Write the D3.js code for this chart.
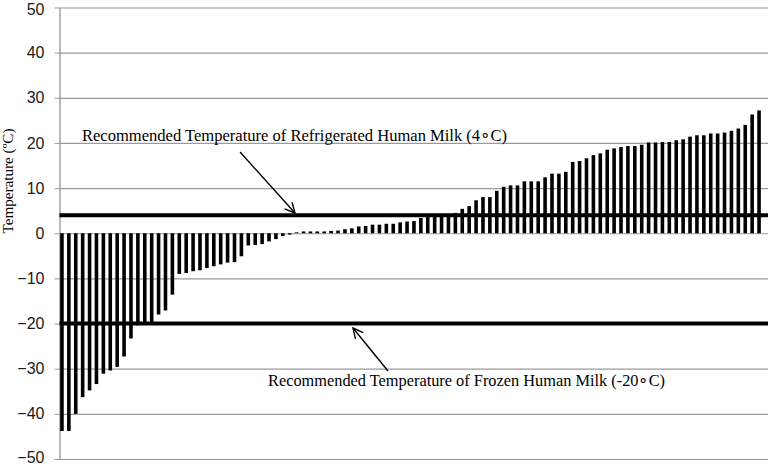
<!DOCTYPE html>
<html>
<head>
<meta charset="utf-8">
<script src="https://cdn.jsdelivr.net/npm/d3@7"></script>
<style>
  body { margin: 0; background: #fff; }
  .tick text { font-family: "Liberation Sans", Arial, sans-serif; font-size: 16px; fill: #1a1a1a; }
  .note { font-family: "Liberation Serif", "Times New Roman", serif; font-size: 16px; fill: #000; }
</style>
</head>
<body>
<svg class="TempChart" width="772" height="466"></svg>
<script>
// temperature of each sample, sorted low to high
const temps = [
  -43.8, -43.8, -40.0, -36.3, -34.8, -33.4, -31.1, -30.4, -29.6, -27.3,
  -23.3, -20.4, -20.1, -19.8, -18.0, -17.1, -13.6, -9.0, -8.8, -8.4,
  -8.2, -7.7, -7.3, -6.9, -6.5, -6.4, -5.1, -2.7, -2.6, -2.4,
  -1.8, -1.3, -0.6, -0.3, 0.2, 0.4, 0.4, 0.4, 0.4, 0.5,
  0.6, 0.9, 1.1, 1.5, 1.6, 1.9, 1.9, 2.1, 2.1, 2.4,
  2.6, 2.7, 3.4, 3.6, 3.8, 3.9, 4.3, 4.5, 5.4, 6.0,
  7.3, 8.0, 8.0, 9.4, 10.3, 10.6, 10.6, 11.5, 11.5, 11.5,
  12.4, 13.2, 13.2, 13.6, 15.8, 16.0, 16.6, 17.3, 17.7, 18.5,
  18.8, 19.1, 19.3, 19.3, 19.6, 20.1, 20.1, 20.2, 20.2, 20.6,
  20.8, 21.4, 21.7, 21.7, 22.1, 22.1, 22.3, 22.7, 23.2, 24.0,
  26.3, 27.2
];
const samples = temps.map((t, i) => i + 1);
const yTicks = [-50, -40, -30, -20, -10, 0, 10, 20, 30, 40, 50];
const refLines = [
  { value: 4, label: "Recommended Temperature of Refrigerated Human Milk (4\u2218C)" },
  { value: -20, label: "Recommended Temperature of Frozen Human Milk (-20\u2218C)" }
];
const yTitle = "Temperature (\u00baC)";

const plot = { left: 59.5, right: 768, top: 7.5, bottom: 459 };
const svg = d3.select('.TempChart');

const xScale = d3.scaleBand()
    .domain(samples)
    .range([58.5, 762.5])
    .paddingInner(0.48)
    .paddingOuter(0.24);

const yScale = d3.scaleLinear()
    .domain([-50, 50])
    .range([plot.bottom, plot.top]);

// grid lines
svg.append('g')
    .attr('class', 'grid')
    .attr('transform', `translate(${plot.left},0)`)
    .call(d3.axisLeft(yScale)
        .tickValues(yTicks)
        .tickSize(-(plot.right - plot.left))
        .tickFormat('')
    )
    .call(g => g.select('.domain').remove())
    .call(g => g.selectAll('line').attr('stroke', '#9a9a9a').attr('stroke-width', 1.2));

// y axis with small outer ticks
svg.append('g')
    .attr('class', 'y-axis')
    .attr('transform', `translate(${plot.left},0)`)
    .call(d3.axisLeft(yScale)
        .tickValues(yTicks)
        .tickSize(5)
        .tickSizeOuter(0)
        .tickPadding(10)
    )
    .call(g => g.select('.domain').attr('stroke', '#8a8a8a').attr('stroke-width', 1.2))
    .call(g => g.selectAll('.tick line').attr('stroke', '#9a9a9a'))
    .call(g => g.selectAll('.tick text')
        .attr('dy', d => d === 50 ? '0.45em' : (d === -50 ? '0.2em' : '0.32em')));

// bars
svg.append('g')
    .selectAll('rect')
    .data(temps)
    .enter()
    .append('rect')
    .attr('x', (d, i) => xScale(samples[i]))
    .attr('width', xScale.bandwidth())
    .attr('y', d => yScale(Math.max(0, d)))
    .attr('height', d => Math.abs(yScale(d) - yScale(0)))
    .attr('fill', '#000');

// recommended temperature lines
svg.append('g')
    .selectAll('line')
    .data(refLines)
    .enter()
    .append('line')
    .attr('x1', plot.left)
    .attr('x2', plot.right)
    .attr('y1', d => yScale(d.value))
    .attr('y2', d => yScale(d.value))
    .attr('stroke', '#000')
    .attr('stroke-width', 4);

// arrow marker
svg.append('defs').append('marker')
    .attr('id', 'arrow')
    .attr('viewBox', '0 0 12 12')
    .attr('refX', 11)
    .attr('refY', 6)
    .attr('markerWidth', 12)
    .attr('markerHeight', 12)
    .attr('markerUnits', 'userSpaceOnUse')
    .attr('orient', 'auto')
    .append('path')
    .attr('d', 'M1,1 L11,6 L1,11')
    .attr('fill', 'none')
    .attr('stroke', '#000')
    .attr('stroke-width', 1.4);

// annotations
const notes = [
  { text: refLines[0].label, x: 82, y: 141, len: 425, ax1: 240, ay1: 152, ax2: 295, ay2: 213 },
  { text: refLines[1].label, x: 268, y: 386, len: 397, ax1: 388, ay1: 371, ax2: 353, ay2: 328 }
];

svg.selectAll('.note')
    .data(notes)
    .enter()
    .append('text')
    .attr('class', 'note')
    .attr('x', d => d.x)
    .attr('y', d => d.y)
    .attr('textLength', d => d.len)
    .attr('lengthAdjust', 'spacingAndGlyphs')
    .text(d => d.text);

svg.selectAll('.arrow')
    .data(notes)
    .enter()
    .append('line')
    .attr('class', 'arrow')
    .attr('x1', d => d.ax1)
    .attr('y1', d => d.ay1)
    .attr('x2', d => d.ax2)
    .attr('y2', d => d.ay2)
    .attr('stroke', '#000')
    .attr('stroke-width', 1.4)
    .attr('marker-end', 'url(#arrow)');

// y axis title
svg.append('text')
    .attr('class', 'note')
    .attr('transform', `translate(13, 181) rotate(-90)`)
    .attr('text-anchor', 'middle')
    .attr('textLength', 105)
    .attr('lengthAdjust', 'spacingAndGlyphs')
    .style('font-size', '15px')
    .text(yTitle);
</script>
</body>
</html>
